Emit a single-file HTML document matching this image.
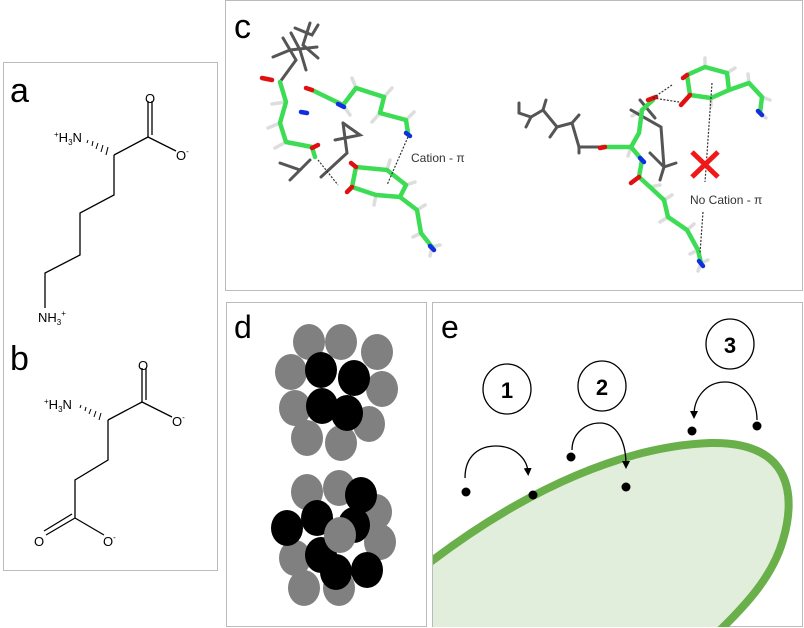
<!DOCTYPE html>
<html><head><meta charset="utf-8"><style>
html,body{margin:0;padding:0;background:#fff;width:804px;height:628px;overflow:hidden}
svg{display:block}
text{font-family:"Liberation Sans",sans-serif}
</style></head><body>
<svg width="804" height="628" viewBox="0 0 804 628" xmlns="http://www.w3.org/2000/svg">
<defs>
<clipPath id="ce"><rect x="433" y="303" width="370" height="324"/></clipPath>
<marker id="ah" markerWidth="8" markerHeight="8" refX="4" refY="4" orient="auto" markerUnits="userSpaceOnUse"><path d="M0,0 L8,4 L0,8 Z" fill="#000"/></marker>
</defs>
<rect x="3.5" y="62.5" width="214" height="508" fill="none" stroke="#bbb"/>
<rect x="225.5" y="0.5" width="577" height="290" fill="none" stroke="#bbb"/>
<rect x="226.5" y="302.5" width="200" height="324" fill="none" stroke="#bbb"/>
<rect x="432.5" y="302.5" width="370" height="324" fill="none" stroke="#bbb"/>

<!-- panel a -->
<text x="10" y="102" font-size="34">a</text>
<g stroke="#000" stroke-width="1.3" fill="none">
<line x1="114" y1="155" x2="148" y2="137"/>
<line x1="148" y1="137" x2="176" y2="151"/>
<line x1="148" y1="137" x2="148" y2="101"/>
<line x1="152" y1="135" x2="152" y2="101"/>
<polyline points="114,155 114,195 80,213 80,255 45,273 45,308"/>
</g>
<g stroke="#000" stroke-width="1">
<line x1="88" y1="140" x2="87" y2="143"/><line x1="93" y1="141" x2="92" y2="146"/><line x1="98" y1="143" x2="96" y2="149"/><line x1="103" y1="145" x2="101" y2="152"/><line x1="108" y1="147" x2="106" y2="155"/>
</g>
<text x="145" y="103" font-size="13">O</text>
<text x="176" y="160" font-size="13">O<tspan font-size="8" dy="-6">-</tspan></text>
<text x="54" y="142" font-size="13"><tspan font-size="8" dy="-5">+</tspan><tspan dy="5">H</tspan><tspan font-size="8" dy="3">3</tspan><tspan dy="-3">N</tspan></text>
<text x="38" y="322" font-size="13">NH<tspan font-size="8" dy="3">3</tspan><tspan font-size="8" dy="-9">+</tspan></text>

<!-- panel b -->
<text x="10" y="370" font-size="34">b</text>
<g stroke="#000" stroke-width="1.3" fill="none">
<line x1="108" y1="420" x2="142" y2="402"/>
<line x1="142" y1="402" x2="172" y2="417"/>
<line x1="142" y1="402" x2="142" y2="368"/>
<line x1="146" y1="400" x2="146" y2="368"/>
<polyline points="108,420 108,460 75,480 75,518"/>
<line x1="75" y1="518" x2="104" y2="535"/>
<line x1="75" y1="518" x2="46" y2="535"/>
<line x1="72" y1="514" x2="44" y2="531"/>
</g>
<g stroke="#000" stroke-width="1">
<line x1="81" y1="405" x2="80" y2="408"/><line x1="86" y1="407" x2="85" y2="411"/><line x1="91" y1="409" x2="89" y2="414"/><line x1="96" y1="411" x2="94" y2="417"/><line x1="101" y1="413" x2="99" y2="420"/>
</g>
<text x="138" y="370" font-size="13">O</text>
<text x="172" y="426" font-size="13">O<tspan font-size="8" dy="-6">-</tspan></text>
<text x="44" y="409" font-size="13"><tspan font-size="8" dy="-5">+</tspan><tspan dy="5">H</tspan><tspan font-size="8" dy="3">3</tspan><tspan dy="-3">N</tspan></text>
<text x="34" y="546" font-size="13">O</text>
<text x="103" y="546" font-size="13">O<tspan font-size="8" dy="-6">-</tspan></text>

<!-- panel c -->
<text x="234" y="38" font-size="34">c</text>
<g stroke="#ddd" stroke-width="3.5" stroke-linecap="round">
<line x1="286" y1="102" x2="272" y2="104"/><line x1="280" y1="123" x2="268" y2="128"/><line x1="286" y1="142" x2="275" y2="148"/>
<line x1="343" y1="105" x2="350" y2="115"/><line x1="356" y1="88" x2="352" y2="78"/><line x1="384" y1="97" x2="392" y2="88"/><line x1="380" y1="113" x2="372" y2="122"/><line x1="406" y1="120" x2="414" y2="112"/>
<line x1="387" y1="170" x2="390" y2="160"/><line x1="406" y1="185" x2="415" y2="182"/><line x1="376" y1="195" x2="374" y2="205"/>
<line x1="417" y1="210" x2="425" y2="205"/><line x1="421" y1="233" x2="413" y2="237"/><line x1="432" y1="247" x2="440" y2="245"/><line x1="432" y1="247" x2="430" y2="256"/>
<line x1="664" y1="200" x2="672" y2="195"/><line x1="668" y1="217" x2="660" y2="222"/><line x1="687" y1="230" x2="694" y2="224"/><line x1="698" y1="250" x2="690" y2="254"/><line x1="701" y1="263" x2="708" y2="260"/><line x1="701" y1="263" x2="698" y2="271"/>
<line x1="705" y1="67" x2="705" y2="58"/><line x1="727" y1="73" x2="735" y2="68"/><line x1="711" y1="98" x2="711" y2="106"/><line x1="749" y1="83" x2="748" y2="74"/><line x1="762" y1="97" x2="770" y2="100"/><line x1="760" y1="113" x2="766" y2="118"/>
<line x1="631" y1="147" x2="628" y2="156"/><line x1="650" y1="187" x2="660" y2="185"/><line x1="642" y1="110" x2="632" y2="116"/>
</g>
<g stroke="#555" stroke-width="3" fill="none" stroke-linecap="round">
<polyline points="273,57 290,50 317,47"/>
<polyline points="291,33 300,50 306,70"/>
<polyline points="310,23 303,45 318,58"/>
<polyline points="283,38 296,60 280,82"/>
<polyline points="295,28 312,35 318,25"/>
<polyline points="343,123 347,153 321,177"/>
<polyline points="343,123 360,135 335,140"/>
<polyline points="280,163 300,170 290,180"/>
<polyline points="300,170 310,160"/>
<polyline points="519,103 519,113 531,117 543,110 546,100"/>
<polyline points="531,117 526,127"/>
<polyline points="543,110 557,127 572,123 579,115"/>
<polyline points="557,127 550,137"/>
<polyline points="572,123 579,147 602,147"/>
<polyline points="579,147 579,153"/>
<polyline points="631,110 661,127 664,167 676,163"/>
<polyline points="650,153 664,167 660,180"/>
<polyline points="640,100 655,118"/>
</g>
<g stroke="#3ddc55" stroke-width="4.5" fill="none" stroke-linejoin="round" stroke-linecap="round">
<polyline points="280,82 286,102 280,123 286,142 312,147 315,157"/>
<polyline points="312,90 343,105 356,88 384,97 380,113 406,120 408,133"/>
<polygon points="356,167 387,170 406,185 400,197 376,195 352,187"/>
<polyline points="400,197 417,210 421,233 432,247"/>
<polyline points="602,147 631,147 639,133 642,110 653,100"/>
<polyline points="631,147 642,160 639,177 650,187 664,200 668,217 687,230 698,250 701,263"/>
<polygon points="687,75 705,67 727,73 729,90 711,98 690,95"/>
<polyline points="729,90 749,83 762,97 760,113"/>
</g>
<g stroke="#e01010" stroke-width="4.5" stroke-linecap="round">
<line x1="262" y1="78" x2="272" y2="80"/>
<line x1="306" y1="88" x2="312" y2="90"/>
<line x1="347" y1="192" x2="352" y2="187"/>
<line x1="351" y1="163" x2="356" y2="167"/>
<line x1="312" y1="148" x2="318" y2="145"/>
<line x1="683" y1="78" x2="687" y2="75"/>
<line x1="681" y1="105" x2="690" y2="95"/>
<line x1="631" y1="183" x2="639" y2="177"/>
<line x1="600" y1="148" x2="605" y2="147"/>
<line x1="648" y1="100" x2="656" y2="97"/>
</g>
<g stroke="#1030e0" stroke-width="4.5" stroke-linecap="round">
<line x1="301" y1="112" x2="307" y2="113"/>
<line x1="406" y1="133" x2="410" y2="136"/>
<line x1="430" y1="246" x2="434" y2="250"/>
<line x1="640" y1="158" x2="644" y2="162"/>
<line x1="699" y1="261" x2="703" y2="266"/>
<line x1="758" y1="111" x2="762" y2="115"/>
<line x1="338" y1="104" x2="344" y2="107"/>
</g>
<g stroke="#333" stroke-width="1.2" stroke-dasharray="2,1.5">
<line x1="408" y1="137" x2="387" y2="185"/>
<line x1="712" y1="83" x2="705" y2="182"/>
<line x1="703" y1="212" x2="700" y2="253"/>
<line x1="653" y1="98" x2="672" y2="85"/>
<line x1="653" y1="98" x2="679" y2="102"/>
<line x1="318" y1="160" x2="338" y2="185"/>
</g>
<g stroke="#f01818" stroke-width="5"><line x1="692" y1="152" x2="718" y2="177"/><line x1="718" y1="152" x2="692" y2="177"/></g>
<text x="411" y="162" font-size="12" fill="#333">Cation - π</text>
<text x="690" y="204" font-size="12" fill="#333">No Cation - π</text>

<!-- panel d -->
<text x="234" y="338" font-size="32">d</text>
<g fill="#808080">
<ellipse cx="309" cy="342" rx="16" ry="18"/><ellipse cx="341" cy="342" rx="16" ry="18"/><ellipse cx="377" cy="352" rx="16" ry="18"/><ellipse cx="291" cy="372" rx="16" ry="18"/><ellipse cx="382" cy="389" rx="16" ry="18"/><ellipse cx="295" cy="408" rx="16" ry="18"/><ellipse cx="369" cy="424" rx="16" ry="18"/><ellipse cx="307" cy="438" rx="16" ry="18"/><ellipse cx="341" cy="443" rx="16" ry="18"/>
</g>
<g fill="#000">
<ellipse cx="321" cy="370" rx="16" ry="18"/><ellipse cx="354" cy="378" rx="16" ry="18"/><ellipse cx="322" cy="406" rx="16" ry="18"/><ellipse cx="347" cy="413" rx="16" ry="18"/>
</g>
<g fill="#808080">
<ellipse cx="307" cy="492" rx="16" ry="18"/><ellipse cx="339" cy="488" rx="16" ry="18"/><ellipse cx="376" cy="512" rx="16" ry="18"/><ellipse cx="295" cy="558" rx="16" ry="18"/><ellipse cx="380" cy="542" rx="16" ry="18"/><ellipse cx="304" cy="588" rx="16" ry="18"/><ellipse cx="339" cy="588" rx="16" ry="18"/>
</g>
<g fill="#000">
<ellipse cx="361" cy="495" rx="16" ry="18"/><ellipse cx="317" cy="518" rx="16" ry="18"/><ellipse cx="354" cy="525" rx="16" ry="18"/><ellipse cx="321" cy="555" rx="16" ry="18"/><ellipse cx="287" cy="528" rx="16" ry="18"/><ellipse cx="336" cy="572" rx="16" ry="18"/><ellipse cx="367" cy="570" rx="16" ry="18"/>
</g>
<ellipse cx="340" cy="535" rx="16" ry="18" fill="#808080"/>

<!-- panel e -->
<text x="441" y="338" font-size="32">e</text>
<g clip-path="url(#ce)">
<path d="M 420 570 C 530 484, 630 446, 710 443 C 795 441, 795 500, 783 540 C 770 585, 735 615, 700 650 L 420 650 Z" fill="#e1eedb" stroke="#6ab04a" stroke-width="8"/>
</g>
<g fill="#000">
<circle cx="466" cy="492" r="4.5"/><circle cx="533" cy="495" r="4.5"/><circle cx="571" cy="457" r="4.5"/><circle cx="626" cy="487" r="4.5"/><circle cx="692" cy="431" r="4.5"/><circle cx="757" cy="426" r="4.5"/>
</g>
<g fill="none" stroke="#000" stroke-width="1.3">
<path d="M465,478 C465,455 480,446 496,446 C514,446 527,458 528,472" marker-end="url(#ah)"/>
<path d="M572,450 C572,433 586,423 600,423 C616,423 626,440 626,465" marker-end="url(#ah)"/>
<path d="M757,420 C757,398 742,382 725,382 C706,382 694,398 694,415" marker-end="url(#ah)"/>
<ellipse cx="507" cy="389" rx="24" ry="25"/>
<ellipse cx="602" cy="386" rx="24" ry="25"/>
<ellipse cx="730" cy="344" rx="24" ry="25"/>
</g>
<text x="507" y="398" font-size="22" font-weight="bold" text-anchor="middle">1</text>
<text x="602" y="395" font-size="22" font-weight="bold" text-anchor="middle">2</text>
<text x="730" y="353" font-size="22" font-weight="bold" text-anchor="middle">3</text>
</svg>
</body></html>
